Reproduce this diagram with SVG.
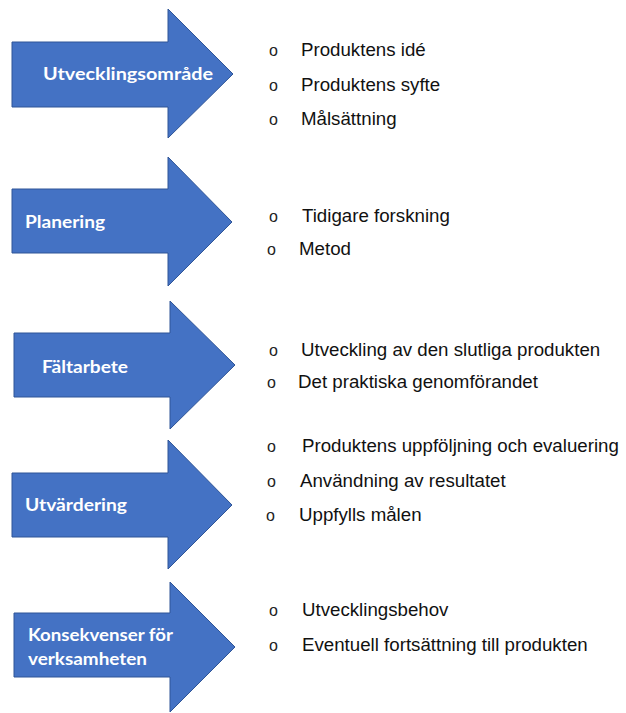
<svg xmlns="http://www.w3.org/2000/svg" width="626" height="713" viewBox="0 0 626 713">
<style>
.arrow{fill:#4472C4;stroke:#2F5597;stroke-width:1}
.lbl{font-family:Lato,"Open Sans","DejaVu Sans",sans-serif;font-weight:700;font-size:16.5px;fill:#FFFFFF}
.item{font-family:"Liberation Sans",Arial,sans-serif;font-size:18.7px;fill:#111111}
.bul{font-family:"Liberation Sans",Arial,sans-serif;font-size:16px;fill:#222222}
</style>
<rect width="626" height="713" fill="#FFFFFF"/>
<g id="node1">
<polygon class="arrow" points="12,42 168,42 168,9 233,74 168,138 168,107 12,107"/>
<text class="lbl" x="43" y="80" textLength="170" lengthAdjust="spacingAndGlyphs">Utvecklingsområde</text>
</g>
<g id="node2">
<polygon class="arrow" points="12,189 168,189 168,157 232,222 168,286 168,253 12,253"/>
<text class="lbl" x="25" y="228" textLength="80" lengthAdjust="spacingAndGlyphs">Planering</text>
</g>
<g id="node3">
<polygon class="arrow" points="14,333 170,333 170,301 235,365 170,429 170,397 14,397"/>
<text class="lbl" x="42" y="373" textLength="86" lengthAdjust="spacingAndGlyphs">Fältarbete</text>
</g>
<g id="node4">
<polygon class="arrow" points="12,473 168,473 168,440 232,505 168,569 168,537 12,537"/>
<text class="lbl" x="25" y="511" textLength="102" lengthAdjust="spacingAndGlyphs">Utvärdering</text>
</g>
<g id="node5">
<polygon class="arrow" points="14,613 170,613 170,582 235,647 170,712 170,677 14,677"/>
<text class="lbl" x="28" y="641" textLength="145" lengthAdjust="spacingAndGlyphs">Konsekvenser för</text>
<text class="lbl" x="28" y="665" textLength="119" lengthAdjust="spacingAndGlyphs">verksamheten</text>
</g>
<g id="list1">
<text class="bul" x="269" y="56">o</text><text class="item" x="301" y="56">Produktens idé</text>
<text class="bul" x="269" y="91">o</text><text class="item" x="301" y="91">Produktens syfte</text>
<text class="bul" x="269" y="125">o</text><text class="item" x="301" y="125">Målsättning</text>
</g>
<g id="list2">
<text class="bul" x="269" y="222">o</text><text class="item" x="302" y="222">Tidigare forskning</text>
<text class="bul" x="267" y="255">o</text><text class="item" x="299" y="255">Metod</text>
</g>
<g id="list3">
<text class="bul" x="269" y="356">o</text><text class="item" x="301" y="356">Utveckling av den slutliga produkten</text>
<text class="bul" x="267" y="388">o</text><text class="item" x="298" y="388">Det praktiska genomförandet</text>
</g>
<g id="list4">
<text class="bul" x="267" y="452">o</text><text class="item" x="302" y="452">Produktens uppföljning och evaluering</text>
<text class="bul" x="267" y="487">o</text><text class="item" x="300" y="487">Användning av resultatet</text>
<text class="bul" x="266" y="521">o</text><text class="item" x="299" y="521">Uppfylls målen</text>
</g>
<g id="list5">
<text class="bul" x="269" y="616">o</text><text class="item" x="302" y="616">Utvecklingsbehov</text>
<text class="bul" x="269" y="651">o</text><text class="item" x="302" y="651">Eventuell fortsättning till produkten</text>
</g>
<g id="connectors"></g>
</svg>
